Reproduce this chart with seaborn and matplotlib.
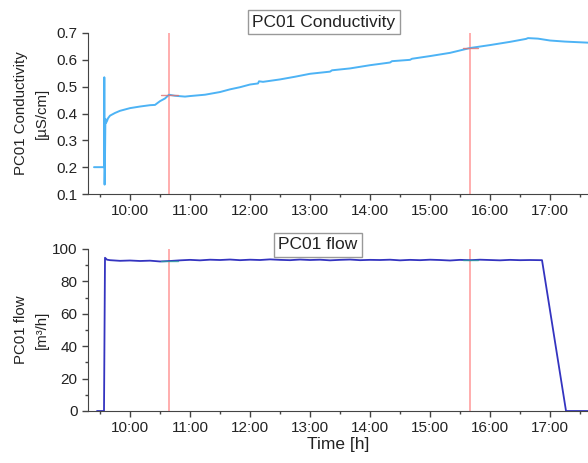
import numpy as np
import pandas as pd
import matplotlib
matplotlib.use("Agg")
import matplotlib.pyplot as plt
from matplotlib.ticker import FuncFormatter, MultipleLocator
import seaborn as sns

# conductivity trace (time as HH:MM, value in uS/cm)
cond_time = ["09:24", "09:34", "09:34.3", "09:34.6", "09:35", "09:35.4", "09:36", "09:37",
             "09:38", "09:40", "09:45", "09:50", "10:00", "10:10", "10:20", "10:25",
             "10:30", "10:35", "10:39", "10:45", "10:55", "11:00", "11:15", "11:30",
             "11:40", "11:50", "12:00", "12:08", "12:09", "12:13", "12:30", "12:45",
             "13:00", "13:20", "13:22", "13:40", "14:00", "14:20", "14:22", "14:40",
             "14:42", "15:00", "15:20", "15:40", "16:00", "16:20", "16:36", "16:38",
             "16:48", "17:00", "17:15", "17:38"]
cond_val = [0.200, 0.200, 0.535, 0.135, 0.240, 0.380, 0.365, 0.372,
            0.382, 0.392, 0.402, 0.410, 0.420, 0.426, 0.431, 0.432,
            0.446, 0.456, 0.470, 0.466, 0.463, 0.465, 0.470, 0.480,
            0.490, 0.498, 0.508, 0.512, 0.520, 0.518, 0.527, 0.537,
            0.548, 0.556, 0.561, 0.568, 0.580, 0.590, 0.595, 0.600,
            0.604, 0.614, 0.626, 0.644, 0.655, 0.667, 0.678, 0.681,
            0.679, 0.672, 0.668, 0.664]

# flow trace (m3/h)
flow_time = ["09:27", "09:34", "09:35", "09:37", "09:40", "09:50", "10:00", "10:10",
             "10:20", "10:30", "10:40", "10:50", "11:00", "11:10", "11:20", "11:30",
             "11:40", "11:50", "12:00", "12:10", "12:20", "12:30", "12:40", "12:50",
             "13:00", "13:10", "13:20", "13:30", "13:40", "13:50", "14:00", "14:10",
             "14:20", "14:30", "14:40", "14:50", "15:00", "15:10", "15:20", "15:30",
             "15:40", "15:50", "16:00", "16:10", "16:20", "16:30", "16:40", "16:52",
             "17:16", "17:38"]
flow_val = [0.0, 0.0, 94.6, 93.4, 93.1, 92.7, 92.9, 92.6,
            92.8, 92.3, 92.6, 93.0, 93.3, 93.0, 93.4, 93.2,
            93.5, 93.1, 93.4, 93.2, 93.6, 93.3, 93.1, 93.5,
            93.2, 93.4, 93.0, 93.3, 93.5, 93.1, 93.3, 93.2,
            93.4, 93.0, 93.3, 93.1, 93.4, 93.2, 92.9, 93.3,
            93.1, 93.4, 93.2, 93.0, 93.3, 93.1, 93.2, 93.1,
            0.0, 0.0]

# vertical markers and short cursor segments
marker_time = ["10:39", "15:40"]
cond_cursor_time = [["10:31", "10:48"], ["15:33", "15:48"]]
cond_cursor_val = [0.468, 0.645]
flow_cursor_time = [["10:31", "10:48"], ["15:33", "15:48"]]
flow_cursor_val = [92.5, 93.1]


def to_hours(s):
    h, m = s.split(":")
    return int(h) + float(m) / 60.0


def fmt_time(v, pos):
    h = int(v)
    m = int(round((v - h) * 60))
    return f"{h:02d}:{m:02d}"


cond = pd.DataFrame({"t": [to_hours(s) for s in cond_time], "v": cond_val})
flow = pd.DataFrame({"t": [to_hours(s) for s in flow_time], "v": flow_val})
markers = [to_hours(s) for s in marker_time]

sns.set_style("ticks")
plt.rcParams['font.family'] = ['Liberation Sans', 'DejaVu Sans']
plt.rcParams['text.color'] = '#222222'
plt.rcParams['axes.labelcolor'] = '#222222'
plt.rcParams['xtick.color'] = '#444444'
plt.rcParams['ytick.color'] = '#444444'
plt.rcParams['xtick.labelcolor'] = '#222222'
plt.rcParams['ytick.labelcolor'] = '#222222'

fig, (ax1, ax2) = plt.subplots(2, 1, figsize=(5.88, 4.63), dpi=100)
ax1.set_position([88 / 588, 1 - 194 / 463, 500 / 588, 161 / 463])
ax2.set_position([88 / 588, 1 - 411 / 463, 500 / 588, 162 / 463])

sns.lineplot(data=cond, x="t", y="v", ax=ax1, sort=False, estimator=None,
             color="#4db3f5", linewidth=1.4)
sns.lineplot(data=flow, x="t", y="v", ax=ax2, sort=False, estimator=None,
             color="#3434c0", linewidth=1.3)

for ax in (ax1, ax2):
    for m in markers:
        ax.axvline(m, color="#ffa0a0", linewidth=1.2, zorder=1)

for (a, b), v in zip(cond_cursor_time, cond_cursor_val):
    ax1.plot([to_hours(a), to_hours(b)], [v, v], color="#e07070", linewidth=1.0, alpha=0.8)
for (a, b), v in zip(flow_cursor_time, flow_cursor_val):
    ax2.plot([to_hours(a), to_hours(b)], [v, v], color="#30a0a0", linewidth=1.0, alpha=0.8)

ax1.set_xlim(9.30, 17.633)
ax2.set_xlim(9.30, 17.633)
ax1.set_ylim(0.1, 0.7)
ax2.set_ylim(0, 100)

for ax in (ax1, ax2):
    ax.xaxis.set_major_locator(MultipleLocator(1))
    ax.xaxis.set_minor_locator(MultipleLocator(0.5))
    ax.xaxis.set_major_formatter(FuncFormatter(fmt_time))
    ax.tick_params(axis="both", which="major", labelsize=11, length=4, width=1)
    ax.tick_params(axis="both", which="minor", length=2.5, width=1)
    ax.spines["top"].set_visible(False)
    ax.spines["right"].set_visible(False)
    ax.spines["left"].set_color("#444444")
    ax.spines["bottom"].set_color("#444444")
    ax.set_xlabel("")

ax1.yaxis.set_major_locator(MultipleLocator(0.1))
ax2.yaxis.set_major_locator(MultipleLocator(20))
ax2.yaxis.set_minor_locator(MultipleLocator(10))

ax1.set_ylabel("PC01 Conductivity\n[µS/cm]", fontsize=10.8, linespacing=1.6)
ax2.set_ylabel("PC01 flow\n[m³/h]", fontsize=10.8, linespacing=1.6)
ax1.yaxis.set_label_coords(-0.078, 0.5)
ax2.yaxis.set_label_coords(-0.078, 0.5)
ax2.set_xlabel("Time [h]", fontsize=12.5, labelpad=1)

box = dict(boxstyle="square,pad=0.25", facecolor="white", edgecolor="#999999", linewidth=1)
ax1.text((324 - 88) / 500, 1 + (33 - 22) / 161, "PC01 Conductivity", transform=ax1.transAxes,
         ha="center", va="center", fontsize=12.5, bbox=box)
ax2.text((318 - 88) / 500, 1 + (249 - 245) / 162, "PC01 flow", transform=ax2.transAxes,
         ha="center", va="center", fontsize=12.5, bbox=box)

fig.savefig("out.png", dpi=100)
